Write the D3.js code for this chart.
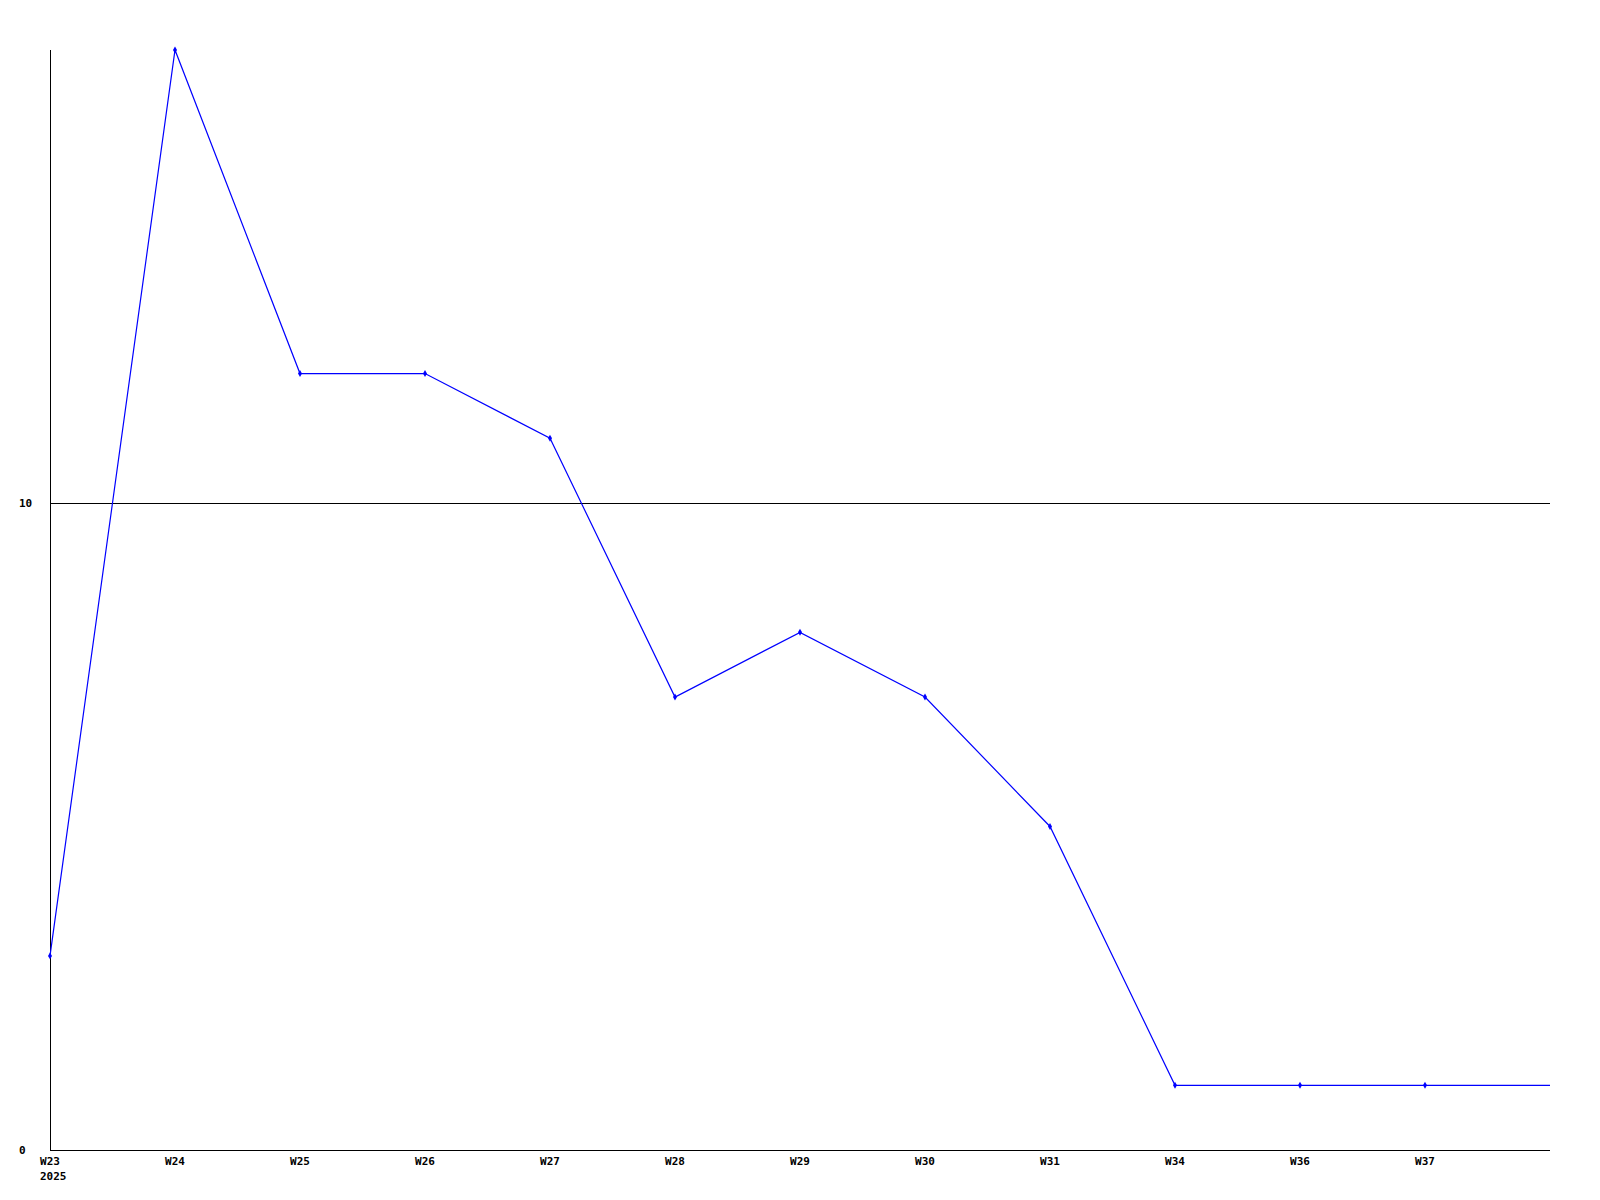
<!DOCTYPE html>
<html><head><meta charset="utf-8">
<script src="https://cdn.jsdelivr.net/npm/d3@7"></script>
<style>body{margin:0;background:#fff}text{font-family:"DejaVu Sans Mono",monospace;font-weight:bold;font-size:11px;fill:#000}</style>
</head><body>
<svg id="c" width="1600" height="1200"></svg>
<script>
const weeks = ["W23","W24","W25","W26","W27","W28","W29","W30","W31","W34","W36","W37"];
const values = [3,17,12,12,11,7,8,7,5,1,1,1];
const yTicks = [0,10];
const yearLabel = "2025";

(function(){
const svg = d3.select("#c");
const mL=50,mR=1550,mT=50,mB=1150;
const x = d3.scaleLinear().domain([0,weeks.length]).range([mL,mR]);
const y = d3.scaleLinear().domain([0,17]).range([mB,mT]);

svg.selectAll(".grid").data(yTicks.filter(d=>d>0)).enter().append("line")
  .attr("x1",mL).attr("x2",mR).attr("y1",d=>Math.round(y(d))+0.5).attr("y2",d=>Math.round(y(d))+0.5)
  .attr("stroke","#000").attr("stroke-width",1);
svg.append("line").attr("x1",mL+0.5).attr("x2",mL+0.5).attr("y1",mT).attr("y2",mB).attr("stroke","#000");
svg.append("line").attr("x1",mL).attr("x2",mR).attr("y1",mB+0.5).attr("y2",mB+0.5).attr("stroke","#000");

svg.selectAll(".yl").data(yTicks).enter().append("text")
  .attr("x",19).attr("y",d=>y(d)+4).text(d=>d);
svg.selectAll(".xl").data(weeks).enter().append("text")
  .attr("x",(d,i)=>x(i)).attr("y",1165).attr("text-anchor","middle").text(d=>d);
svg.append("text").attr("x",40).attr("y",1180).text(yearLabel);

const pts = values.map((v,i)=>[x(i),y(v)]);
pts.push([x(weeks.length), y(values[values.length-1])]);
svg.append("path").attr("d",d3.line()(pts)).attr("fill","none").attr("stroke","#0000ff").attr("stroke-width",1.2);
svg.selectAll(".m").data(values).enter().append("path")
  .attr("transform",(d,i)=>`translate(${x(i)},${y(d)})`)
  .attr("d",d3.symbol(d3.symbolDiamond,14)).attr("fill","#0000ff");
})();
</script>
</body></html>
